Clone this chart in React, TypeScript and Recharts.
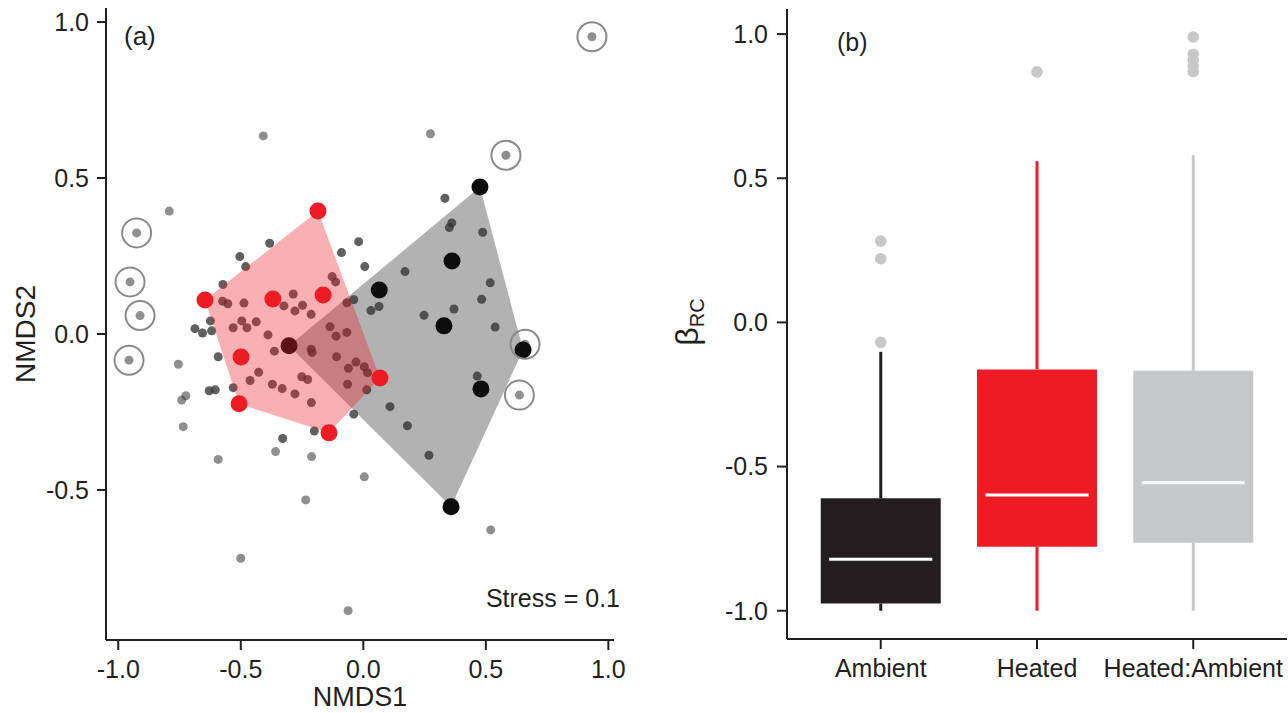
import {
  ScatterChart,
  ComposedChart,
  Scatter,
  XAxis,
  YAxis,
  ReferenceArea,
  ReferenceLine,
  Label,
} from 'recharts';

const ink = '#231f20';
const red = '#ed1c24';
const pale = '#c6c7c9';
const font = '"Liberation Sans", Arial, sans-serif';

// ---- panel (a): NMDS site scores [NMDS1, NMDS2] ----
// small sites, drawn once (lighter)
const sitesLight: number[][] = [
  [-0.408, 0.635], [0.274, 0.642], [-0.792, 0.394], [0.52, -0.628], [-0.5, -0.719],
  [-0.062, -0.887], [-0.235, -0.532], [0.004, -0.458], [-0.592, -0.402], [-0.735, -0.297],
  [-0.358, -0.377], [-0.211, -0.393], [-0.755, -0.097], [-0.741, -0.212], [-0.724, -0.198],
];
// small sites with overlapping replicates (darker)
const sitesDark: number[][] = [
  [-0.382, 0.291], [-0.504, 0.248], [-0.48, 0.216], [-0.573, 0.159], [-0.019, 0.296],
  [-0.089, 0.261], [0.006, 0.216], [0.17, 0.2], [-0.127, 0.184], [-0.113, 0.167],
  [-0.286, 0.128], [-0.248, 0.092], [-0.487, 0.099], [-0.574, 0.105], [-0.553, 0.097],
  [-0.324, 0.09], [-0.279, 0.074], [-0.213, 0.063], [-0.067, 0.1], [-0.039, 0.11],
  [0.031, 0.075], [0.064, 0.088], [0.248, 0.06], [-0.624, 0.042], [-0.687, 0.017],
  [-0.656, 0.003], [-0.619, 0.01], [-0.496, 0.042], [-0.475, 0.02], [-0.437, 0.039],
  [-0.531, 0.02], [-0.389, -0.003], [-0.363, -0.055], [-0.592, -0.073], [-0.427, -0.123],
  [-0.462, -0.149], [-0.251, -0.137], [-0.227, -0.146], [-0.213, -0.049], [-0.209, -0.059],
  [-0.136, 0.023], [-0.111, -0.007], [-0.067, 0.005], [-0.109, -0.073], [-0.03, -0.09],
  [-0.061, -0.11], [0.004, -0.105], [0.017, -0.124], [-0.064, -0.161], [0.014, -0.179],
  [-0.629, -0.182], [-0.604, -0.179], [-0.531, -0.172], [-0.371, -0.161], [-0.331, -0.175],
  [-0.279, -0.192], [-0.212, -0.22], [-0.329, -0.335], [-0.2, -0.311], [-0.039, -0.257],
  [0.109, -0.233], [0.18, -0.294], [0.268, -0.389], [0.333, 0.435], [0.361, 0.356],
  [0.351, 0.341], [0.487, 0.326], [0.518, 0.164], [0.483, 0.111], [0.37, 0.08],
  [0.538, 0.022], [0.465, -0.135],
];
// circled sites
const sitesRinged: number[][] = [
  [0.933, 0.953], [0.582, 0.573], [-0.925, 0.324], [-0.952, 0.167],
  [-0.911, 0.059], [-0.956, -0.084], [0.637, -0.196], [0.66, -0.033],
];
const heatedCentroids: number[][] = [
  [-0.185, 0.394], [-0.646, 0.109], [-0.369, 0.112], [-0.164, 0.125],
  [-0.499, -0.074], [-0.507, -0.224], [-0.14, -0.317], [0.068, -0.141],
];
const ambientCentroids: number[][] = [
  [0.476, 0.471], [0.362, 0.234], [0.065, 0.141], [0.329, 0.026],
  [-0.303, -0.038], [0.652, -0.051], [0.48, -0.176], [0.358, -0.554],
];
const heatedHullIdx = [0, 1, 5, 6, 7];
const ambientHullIdx = [0, 5, 7, 4];

const nmdsTicksX = [-1, -0.5, 0, 0.5, 1];
const nmdsTicksY = [-0.5, 0, 0.5, 1];

// ---- panel (b): beta_RC box plots ----
const groups = ['Ambient', 'Heated', 'Heated:Ambient'];
const whiskerLow = [-1.0, -1.0, -1.0];
const q1 = [-0.975, -0.778, -0.764];
const median = [-0.821, -0.599, -0.556];
const q3 = [-0.61, -0.163, -0.168];
const whiskerHigh = [-0.102, 0.559, 0.58];
const outliers = [[0.282, 0.221, -0.069], [0.869], [0.99, 0.93, 0.91, 0.89, 0.87]];
const boxColours = [ink, red, pale];
const betaTicks = [-1, -0.5, 0, 0.5, 1];

const toPts = (arr: number[][]) => arr.map(([x, y]) => ({ x, y }));

const dot = (r: number, fill: string, opacity = 1) => (p: any) => (
  <circle cx={p.cx} cy={p.cy} r={r} fill={fill} fillOpacity={opacity} />
);
const ring = (p: any) => (
  <circle cx={p.cx} cy={p.cy} r={14.5} fill="none" stroke="#8a8a8a" strokeWidth={2} />
);
const nothing = () => <g />;
const hull = (fill: string, opacity: number) => (p: any) => {
  const pts = (p.points || []).map((q: any) => `${q.x},${q.y}`).join(' ');
  return <polygon points={pts} fill={fill} fillOpacity={opacity} stroke="none" />;
};

const axisStyle = { stroke: ink, strokeWidth: 2 };
const tickStyle = { fill: ink, fontSize: 25, fontFamily: font };
const fmt = (v: number) => v.toFixed(1);

function NmdsPanel() {
  const heatedHull = toPts(heatedHullIdx.map((i) => heatedCentroids[i]));
  const ambientHull = toPts(ambientHullIdx.map((i) => ambientCentroids[i]));
  return (
    <ScatterChart width={640} height={713} margin={{ top: 8, right: 26, bottom: 0, left: 0 }}>
      <XAxis
        type="number"
        dataKey="x"
        domain={[-1.05, 1.023]}
        ticks={nmdsTicksX}
        tickFormatter={fmt}
        allowDataOverflow
        interval={0}
        height={73}
        axisLine={axisStyle}
        tickLine={axisStyle}
        tick={tickStyle}
        tickSize={10}
        tickMargin={10}
      >
        <Label
          content={(p: any) => {
            const vb = p.viewBox || { x: 106, y: 640, width: 508 };
            return (
              <text x={vb.x + vb.width / 2} y={vb.y + 66} textAnchor="middle" fontSize={27} fill={ink} fontFamily={font}>
                NMDS1
              </text>
            );
          }}
        />
      </XAxis>
      <YAxis
        type="number"
        dataKey="y"
        domain={[-0.981, 1.045]}
        ticks={nmdsTicksY}
        tickFormatter={fmt}
        allowDataOverflow
        interval={0}
        width={106}
        axisLine={axisStyle}
        tickLine={axisStyle}
        tick={tickStyle}
        tickSize={9}
        tickMargin={8}
      >
        <Label
          content={(p: any) => {
            const vb = p.viewBox || { x: 0, y: 8, width: 106, height: 632 };
            const cx = vb.x + 25;
            const cy = vb.y + vb.height / 2 + 10;
            return (
              <text x={cx} y={cy} transform={`rotate(-90 ${cx} ${cy})`} textAnchor="middle" dominantBaseline="central" fontSize={28} fill={ink} fontFamily={font}>
                NMDS2
              </text>
            );
          }}
        />
      </YAxis>
      <Scatter data={ambientHull} line={hull('#000', 0.3)} shape={nothing} isAnimationActive={false} />
      <Scatter data={toPts([...sitesLight, ...sitesRinged])} shape={dot(4.5, '#333', 0.55)} isAnimationActive={false} />
      <Scatter data={toPts(sitesDark)} shape={dot(4.5, '#333', 0.78)} isAnimationActive={false} />
      <Scatter data={toPts(ambientCentroids)} shape={dot(8.5, '#0d0d0d')} isAnimationActive={false} />
      <Scatter data={heatedHull} line={hull(red, 0.35)} shape={nothing} isAnimationActive={false} />
      <Scatter data={toPts(heatedCentroids)} shape={dot(8.5, red)} isAnimationActive={false} />
      <Scatter data={toPts(sitesRinged)} shape={ring} isAnimationActive={false} />
    </ScatterChart>
  );
}

function BetaPanel() {
  const outlierPts = outliers.flatMap((vals, i) => vals.map((y) => ({ x: i + 1, y })));
  const half = 0.384;
  return (
    <ComposedChart width={628} height={713} margin={{ top: 9, right: 1, bottom: 0, left: 0 }}>
      <XAxis
        type="number"
        dataKey="x"
        domain={[0.4, 3.6]}
        ticks={[1, 2, 3]}
        tickFormatter={(v: number) => groups[v - 1]}
        allowDataOverflow
        interval={0}
        height={74}
        axisLine={axisStyle}
        tickLine={axisStyle}
        tick={tickStyle}
        tickSize={10}
        tickMargin={10}
      />
      <YAxis
        type="number"
        dataKey="y"
        domain={[-1.098, 1.087]}
        ticks={betaTicks}
        tickFormatter={fmt}
        allowDataOverflow
        interval={0}
        width={127}
        axisLine={axisStyle}
        tickLine={axisStyle}
        tick={tickStyle}
        tickSize={10}
        tickMargin={9}
      >
        <Label
          content={(p: any) => {
            const vb = p.viewBox || { x: 0, y: 9, width: 127, height: 630 };
            const cx = vb.x + 38;
            const cy = vb.y + vb.height / 2 - 2;
            return (
              <text x={cx} y={cy} transform={`rotate(-90 ${cx} ${cy})`} textAnchor="middle" fill={ink} fontFamily={font}>
                <tspan fontSize={32}>β</tspan>
                <tspan fontSize={20} dy={6}>RC</tspan>
              </text>
            );
          }}
        />
      </YAxis>
      {groups.map((g, i) => (
        <ReferenceLine
          key={`lo-${g}`}
          segment={[{ x: i + 1, y: whiskerLow[i] }, { x: i + 1, y: q1[i] }]}
          stroke={boxColours[i]}
          strokeWidth={3}
        />
      ))}
      {groups.map((g, i) => (
        <ReferenceLine
          key={`hi-${g}`}
          segment={[{ x: i + 1, y: q3[i] }, { x: i + 1, y: whiskerHigh[i] }]}
          stroke={boxColours[i]}
          strokeWidth={3}
        />
      ))}
      {groups.map((g, i) => (
        <ReferenceArea
          key={`box-${g}`}
          x1={i + 1 - half}
          x2={i + 1 + half}
          y1={q1[i]}
          y2={q3[i]}
          fill={boxColours[i]}
          fillOpacity={1}
          stroke="none"
        />
      ))}
      {groups.map((g, i) => (
        <ReferenceLine
          key={`med-${g}`}
          segment={[{ x: i + 1 - 0.33, y: median[i] }, { x: i + 1 + 0.33, y: median[i] }]}
          stroke="#ffffff"
          strokeWidth={3}
        />
      ))}
      <Scatter data={outlierPts} shape={dot(5.8, pale)} isAnimationActive={false} />
    </ComposedChart>
  );
}

export default function App() {
  const note = { position: 'absolute' as const, fontSize: 25, lineHeight: '25px', color: ink, fontFamily: font, whiteSpace: 'nowrap' as const };
  return (
    <div style={{ position: 'absolute', left: 0, top: 0, width: 1288, height: 713, background: '#fff', fontFamily: font }}>
      <div style={{ position: 'absolute', left: 0, top: 0 }}>
        <NmdsPanel />
      </div>
      <div style={{ position: 'absolute', left: 660, top: 0 }}>
        <BetaPanel />
      </div>
      <div style={{ ...note, fontSize: 26, left: 124, top: 24 }}>(a)</div>
      <div style={{ ...note, left: 837, top: 30 }}>(b)</div>
      <div style={{ ...note, right: 1288 - 620, top: 586 }}>Stress = 0.1</div>
    </div>
  );
}
